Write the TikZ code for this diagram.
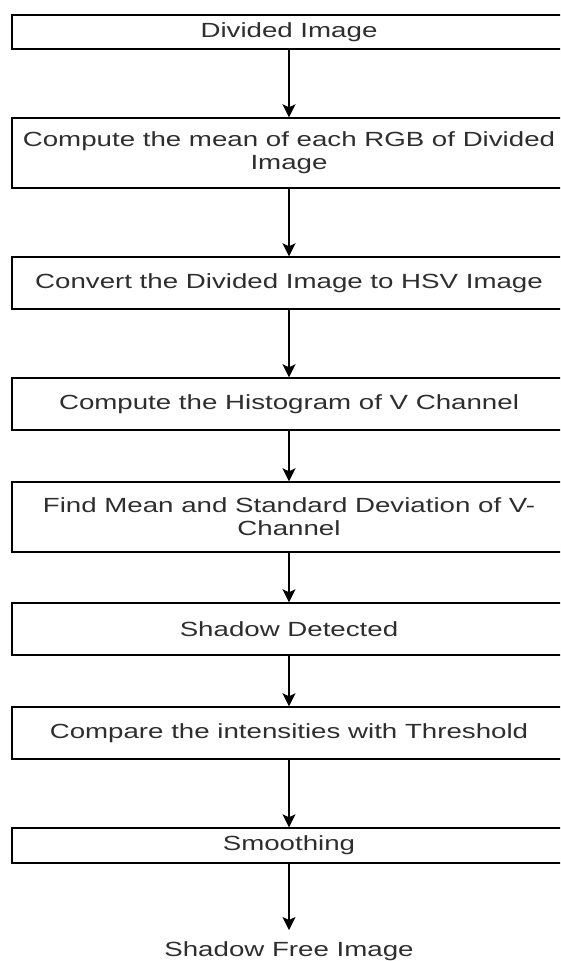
\documentclass[tikz,border=0pt]{standalone}
\usepackage{fontspec}
\setmainfont{Liberation Sans}
\usepackage{graphicx}
\usetikzlibrary{arrows.meta}
\newcommand{\wx}[1]{\scalebox{1.35}[1]{#1}}
\definecolor{txt}{HTML}{2E2E2E}
\tikzset{
  box/.style={draw=black, line width=1.4pt, minimum width=554pt, inner sep=0pt,
    align=center, text=txt, font=\fontsize{20.5}{23}\selectfont},
  plain/.style={inner sep=0pt, text=txt, font=\fontsize{20.5}{23}\selectfont},
  arr/.style={draw=black, line width=1.4pt, -{Stealth[length=13pt,width=13pt,inset=3pt]}}
}
\begin{document}
\begin{tikzpicture}[x=1pt,y=-1pt]
\useasboundingbox (0,0) rectangle (560,961);
\clip (0,0) rectangle (560,961);
\fill[white] (0,0) rectangle (560,961);
\node[box, minimum height=34pt] (b1) at (289,32) {\wx{Divided Image}};
\node[box, minimum height=70pt] (b2) at (289,153) {\wx{Compute the mean of each RGB of Divided}\\\wx{Image}};
\node[box, minimum height=52pt] (b3) at (289,283) {\wx{Convert the Divided Image to HSV Image}};
\node[box, minimum height=52pt] (b4) at (289,404) {\wx{Compute the Histogram of V Channel}};
\node[box, minimum height=70pt] (b5) at (289,517) {\wx{Find Mean and Standard Deviation of V-}\\\wx{Channel}};
\node[box, minimum height=52pt] (b6) at (289,629) {\wx{Shadow Detected}};
\node[box, minimum height=52pt] (b7) at (289,733) {\wx{Compare the intensities with Threshold}};
\node[box, minimum height=35pt] (b8) at (289,845.5) {\wx{Smoothing}};
\node[plain] (out) at (289,951) {\wx{Shadow Free Image}};
\coordinate (tip) at (289,930);
\draw[arr] (b1) -- (b2);
\draw[arr] (b2) -- (b3);
\draw[arr] (b3) -- (b4);
\draw[arr] (b4) -- (b5);
\draw[arr] (b5) -- (b6);
\draw[arr] (b6) -- (b7);
\draw[arr] (b7) -- (b8);
\draw[arr] (b8) -- (tip);
\end{tikzpicture}
\end{document}
